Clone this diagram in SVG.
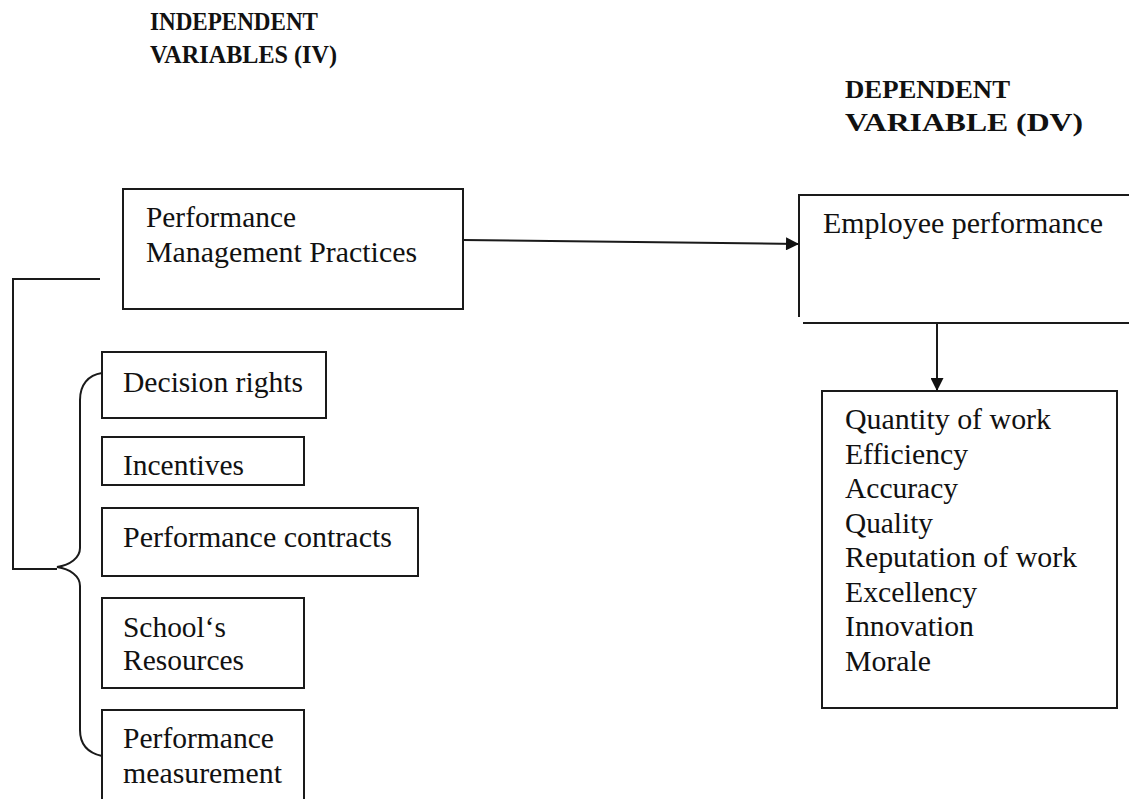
<svg xmlns="http://www.w3.org/2000/svg" width="1129" height="799" viewBox="0 0 1129 799">
<defs>
<style>
.box{fill:#fff;stroke:#1a1a1a;stroke-width:2}
.ln{fill:none;stroke:#1a1a1a;stroke-width:2}
.t{font-family:"Liberation Serif","Times New Roman",serif;font-size:29px;fill:#111}
.h{font-family:"Liberation Serif","Times New Roman",serif;font-size:26px;font-weight:bold;fill:#111}
</style>
<marker id="ah" viewBox="0 0 10 10" refX="10" refY="5" markerWidth="15" markerHeight="13" markerUnits="userSpaceOnUse" orient="auto">
<path d="M0,0 L10,5 L0,10 z" fill="#111"/>
</marker>
</defs>
<rect width="1129" height="799" fill="#fff"/>
<g id="header-iv">
<text class="h" x="150" y="30" textLength="168" lengthAdjust="spacingAndGlyphs">INDEPENDENT</text>
<text class="h" x="150" y="63" textLength="187" lengthAdjust="spacingAndGlyphs">VARIABLES (IV)</text>
</g>
<g id="header-dv">
<text class="h" x="845" y="98" textLength="165" lengthAdjust="spacingAndGlyphs">DEPENDENT</text>
<text class="h" x="845" y="131" textLength="238" lengthAdjust="spacingAndGlyphs">VARIABLE (DV)</text>
</g>
<g id="pmp">
<rect class="box" x="123" y="189" width="340" height="120"/>
<text class="t" x="146" y="227" textLength="150" lengthAdjust="spacingAndGlyphs">Performance</text>
<text class="t" x="146" y="262" textLength="271" lengthAdjust="spacingAndGlyphs">Management Practices</text>
</g>
<g id="decision-rights">
<rect class="box" x="102" y="352" width="224" height="66"/>
<text class="t" x="123" y="392" textLength="180" lengthAdjust="spacingAndGlyphs">Decision rights</text>
</g>
<g id="incentives">
<rect class="box" x="102" y="437" width="202" height="48"/>
<text class="t" x="123" y="475" textLength="121" lengthAdjust="spacingAndGlyphs">Incentives</text>
</g>
<g id="performance-contracts">
<rect class="box" x="102" y="508" width="316" height="68"/>
<text class="t" x="123" y="547" textLength="269" lengthAdjust="spacingAndGlyphs">Performance contracts</text>
</g>
<g id="schools-resources">
<rect class="box" x="102" y="598" width="202" height="90"/>
<text class="t" x="123" y="637" textLength="103" lengthAdjust="spacingAndGlyphs">School‘s</text>
<text class="t" x="123" y="670" textLength="121" lengthAdjust="spacingAndGlyphs">Resources</text>
</g>
<g id="performance-measurement">
<rect class="box" x="102" y="710" width="202" height="110"/>
<text class="t" x="123" y="748" textLength="151" lengthAdjust="spacingAndGlyphs">Performance</text>
<text class="t" x="123" y="783" textLength="159" lengthAdjust="spacingAndGlyphs">measurement</text>
</g>
<g id="employee-performance">
<path class="ln" d="M1129,195 L799,195 L799,317"/>
<path class="ln" d="M803,323 L1129,323"/>
<text class="t" x="823" y="233" textLength="280" lengthAdjust="spacingAndGlyphs">Employee performance</text>
</g>
<g id="indicators">
<rect class="box" x="822" y="391" width="295" height="317"/>
<text class="t" x="845" y="429" textLength="206" lengthAdjust="spacingAndGlyphs">Quantity of work</text>
<text class="t" x="845" y="464" textLength="123" lengthAdjust="spacingAndGlyphs">Efficiency</text>
<text class="t" x="845" y="498" textLength="113" lengthAdjust="spacingAndGlyphs">Accuracy</text>
<text class="t" x="845" y="533" textLength="88" lengthAdjust="spacingAndGlyphs">Quality</text>
<text class="t" x="845" y="567" textLength="232" lengthAdjust="spacingAndGlyphs">Reputation of work</text>
<text class="t" x="845" y="602" textLength="132" lengthAdjust="spacingAndGlyphs">Excellency</text>
<text class="t" x="845" y="636" textLength="129" lengthAdjust="spacingAndGlyphs">Innovation</text>
<text class="t" x="845" y="671" textLength="86" lengthAdjust="spacingAndGlyphs">Morale</text>
</g>
<g id="connectors">
<path class="ln" d="M463,240 L799,244" marker-end="url(#ah)"/>
<path class="ln" d="M937,323 L937,391" marker-end="url(#ah)"/>
<path class="ln" d="M100,279 L13,279 L13,569 L57,569"/>
<path class="ln" d="M102,373 C88,375 80,385 80,400 L80,548 C80,558 70,565 57,567 C70,569 80,576 80,586 L80,730 C80,745 88,753 102,756"/>
</g>
</svg>
